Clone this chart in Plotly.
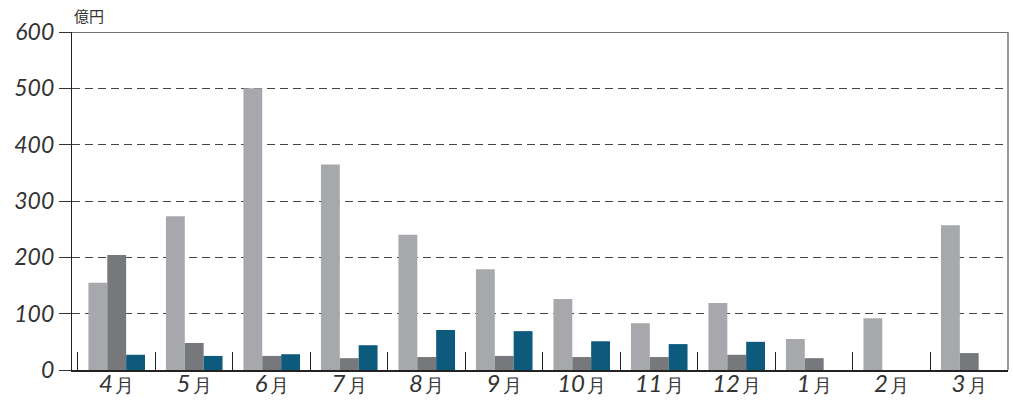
import plotly.graph_objects as go

months = ["4月", "5月", "6月", "7月", "8月", "9月", "10月", "11月", "12月", "1月", "2月", "3月"]
series_a = [155, 273, 500, 365, 240, 179, 126, 83, 119, 55, 92, 257]
series_b = [204, 48, 25, 21, 23, 25, 23, 23, 27, 21, None, 30]
series_c = [27, 25, 28, 44, 71, 69, 51, 46, 50, None, None, None]
y_ticks = [0, 100, 200, 300, 400, 500, 600]

colors = ["#a7a8ac", "#77787b", "#0d5a7d"]

def label(m):
    num = m[:-1]
    return (f"<span style='font-size:24px;font-style:italic'>{num}</span>"
            f"<span style='font-size:19px'>\u2009月</span>")

tick_text = [label(m) for m in months]

fig = go.Figure()
for vals, col in zip([series_a, series_b, series_c], colors):
    fig.add_trace(go.Bar(x=months, y=vals, marker=dict(color=col, line=dict(width=0)),
                         showlegend=False))

fig.update_layout(
    width=1013, height=401,
    margin=dict(l=72, r=5, t=32, b=31),
    plot_bgcolor="white", paper_bgcolor="white",
    barmode="group", bargap=0.27, bargroupgap=0,
    font=dict(family="Lato", color="#333333"),
    xaxis=dict(
        type="category", categoryorder="array", categoryarray=months,
        tickmode="array", tickvals=months, ticktext=tick_text,
        range=[-0.577, 11.5], automargin=False,
        tickson="boundaries", ticks="inside", ticklen=18, tickwidth=1.3, tickcolor="#222",
        showline=True, linecolor="#222", linewidth=1.5,
        tickfont=dict(size=22, family="Lato", color="#333"),
        ticklabelstandoff=-6,
        showgrid=False,
    ),
    yaxis=dict(
        range=[0, 600], tickvals=y_ticks, automargin=False,
        ticks="outside", ticklen=12, tickcolor="#333", tickwidth=1,
        showline=True, linecolor="#222", linewidth=1.3,
        showgrid=True, gridcolor="#444", gridwidth=1, griddash="8px,5px",
        zeroline=False,
        tickfont=dict(size=23, family="Lato", style="italic", color="#333"),
    ),
)

fig.add_shape(type="line", xref="paper", yref="y", x0=0, x1=1, y0=600, y1=600,
              line=dict(color="#444", width=1.3))
fig.add_shape(type="line", xref="paper", yref="paper", x0=1, x1=1, y0=0, y1=1,
              line=dict(color="#777", width=1.5))

fig.add_annotation(text="億円", xref="paper", yref="paper", x=0, y=1, xshift=0, yshift=4,
                   xanchor="left", yanchor="bottom", showarrow=False,
                   font=dict(size=15, family="Noto Sans CJK JP", color="#333"))

fig.write_html("out.html", config={"displayModeBar": False},
               post_script="document.body.style.margin='0';")
